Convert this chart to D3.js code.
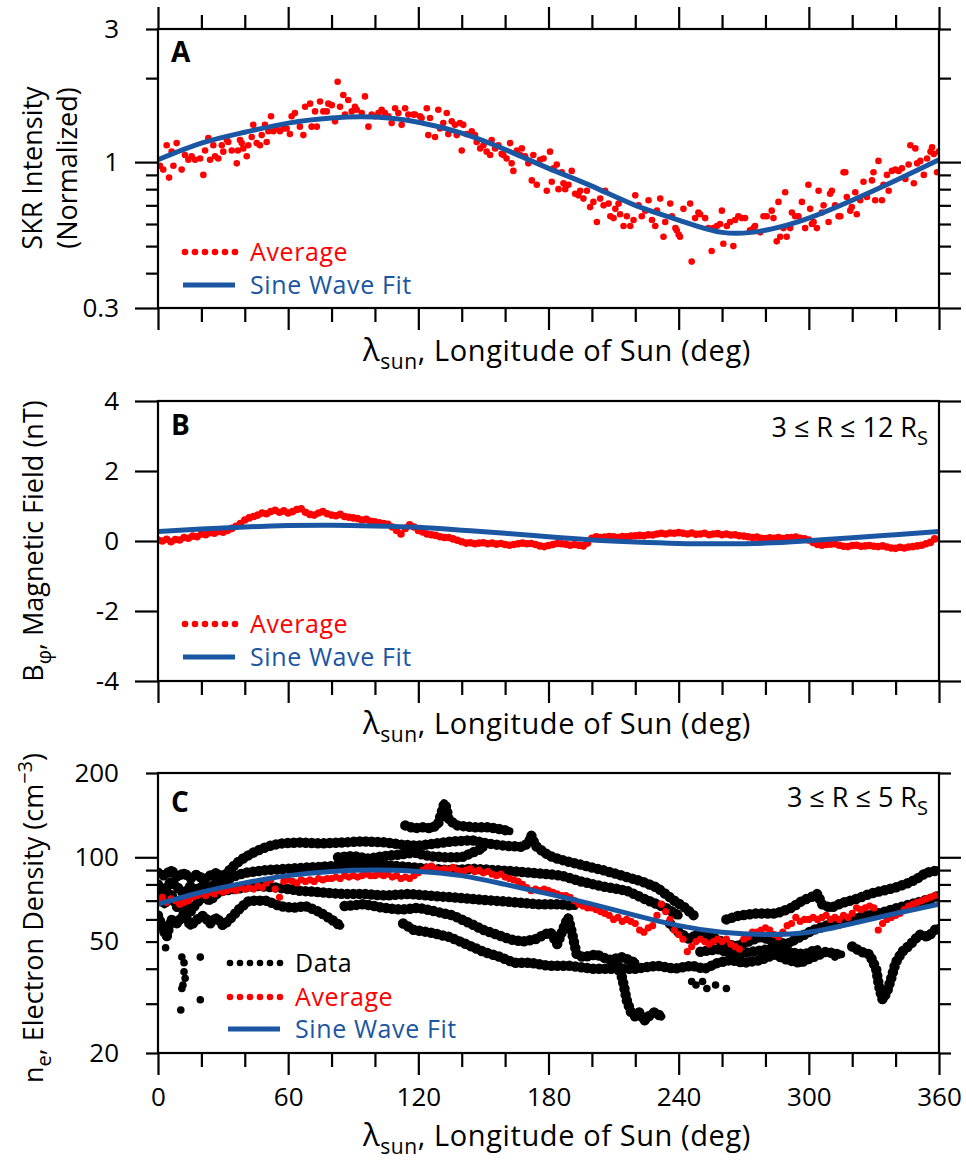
<!DOCTYPE html>
<html><head><meta charset="utf-8">
<script src="https://cdn.jsdelivr.net/npm/d3@7"></script>
<style>
body{margin:0;background:#fff;}
svg{display:block;font-family:"Open Sans",sans-serif;}
</style></head><body>
<svg id="c" width="966" height="1160"></svg>
<script>
// ---------------- DATA ----------------
const lonMajor = [0, 60, 120, 180, 240, 300, 360];
const lonMinor = [20, 40, 80, 100, 140, 160, 200, 220, 260, 280, 320, 340];
const fitLon = d3.range(0, 361, 20);

// Panel A: SKR intensity (normalized)
const skrFit = [1.02,1.17,1.28,1.38,1.44,1.45,1.39,1.27,1.11,0.95,0.82,0.70,0.62,0.56,0.57,0.63,0.73,0.86,1.02];
const skrAvg = [
[0.9,0.97],[2.4,0.94],[4.0,1.15],[5.1,0.88],[6.3,1.09],[7.1,0.97],[8.6,1.17],[10.9,0.94],[12.4,1.06],[14.0,1.02],
[15.5,1.05],[17.1,1.02],[19.4,1.03],[20.9,0.90],[21.7,1.10],[23.2,1.22],[24.0,1.02],[25.5,1.15],[26.3,1.05],[27.8,1.03],
[29.4,1.15],[30.1,1.09],[31.7,1.20],[32.4,1.18],[34.0,1.10],[36.3,0.99],[36.8,1.10],[37.8,1.20],[38.6,1.17],[39.3,1.12],
[40.9,1.05],[41.6,1.15],[43.2,1.23],[43.9,1.36],[45.5,1.17],[47.0,1.15],[47.8,1.25],[49.3,1.36],[50.1,1.18],[50.9,1.29],
[52.1,1.46],[53.2,1.29],[54.7,1.32],[56.2,1.29],[57.8,1.32],[59.3,1.32],[60.8,1.26],[61.6,1.46],[63.1,1.50],[65.4,1.34],
[67.0,1.25],[67.8,1.58],[70.1,1.62],[70.8,1.34],[72.4,1.52],[73.2,1.34],[74.7,1.65],[76.2,1.52],[77.8,1.52],[78.5,1.62],
[80.1,1.60],[81.6,1.40],[82.8,1.94],[83.9,1.58],[85.4,1.74],[86.2,1.48],[87.7,1.67],[89.3,1.52],[90.8,1.58],[91.6,1.54],
[93.9,1.50],[95.4,1.72],[97.0,1.34],[98.5,1.48],[100.0,1.46],[101.6,1.50],[103.1,1.54],[104.6,1.50],[106.2,1.46],[107.7,1.38],
[109.3,1.56],[110.8,1.50],[112.3,1.36],[113.9,1.56],[115.4,1.48],[117.7,1.48],
[118.5,1.48],[120.8,1.46],[121.5,1.44],[123.9,1.56],[125.4,1.44],[124.6,1.25],[127.7,1.23],[129.2,1.54],[130.0,1.32],[131.5,1.38],
[133.1,1.50],[133.8,1.26],[135.4,1.40],[136.9,1.36],[137.7,1.25],[139.2,1.38],[140.0,1.10],[140.7,1.36],[142.3,1.26],[144.6,1.29],
[146.1,1.25],[146.9,1.18],[148.5,1.12],[150.0,1.15],[151.5,1.09],[153.1,1.06],[153.8,1.20],[155.4,1.12],[156.9,1.15],[158.4,1.07],
[159.2,1.06],[160.7,1.03],[162.3,1.17],[163.0,0.99],[163.8,0.93],[165.4,1.10],[166.9,1.06],[167.7,1.12],[169.2,1.05],[170.7,0.99],
[172.3,0.86],[173.0,1.06],[174.6,0.83],[176.1,1.02],[177.7,1.03],[179.2,0.79],[180.7,1.09],[181.5,0.85],[182.3,0.95],[183.8,0.98],
[184.6,0.80],[186.1,0.92],[186.9,0.84],[187.7,0.80],[189.2,0.83],[190.7,0.93],[192.3,0.77],[193.8,0.76],[194.6,0.79],[196.1,0.74],
[197.7,0.79],[199.2,0.69],[200.7,0.72],[202.3,0.61],[203.8,0.74],[205.4,0.70],[206.1,0.79],[207.7,0.71],[208.5,0.64],[210.0,0.63],
[210.8,0.68],[212.3,0.71],[213.0,0.65],[214.6,0.59],[216.1,0.64],[217.7,0.59],[219.2,0.62],[220.0,0.76],[221.5,0.70],[223.0,0.64],
[224.6,0.67],[226.1,0.73],[227.7,0.62],[229.2,0.59],[230.0,0.67],[231.5,0.74],[233.0,0.54],[233.8,0.61],[236.1,0.71],[236.9,0.64],
[238.5,0.58],[240.0,0.55],
[239.1,0.57],[240.6,0.54],[242.2,0.68],[245.3,0.71],[246.0,0.44],[247.6,0.63],[249.1,0.66],[249.9,0.65],[252.2,0.63],[253.7,0.58],
[255.2,0.48],[256.0,0.58],[257.6,0.59],[259.1,0.60],[259.9,0.67],[260.6,0.51],[262.2,0.59],[263.7,0.61],[265.2,0.50],[266.0,0.62],
[267.5,0.64],[269.1,0.63],[270.6,0.63],[272.9,0.57],[274.5,0.58],[275.2,0.59],[277.6,0.56],[279.1,0.64],[280.6,0.64],[282.9,0.67],
[283.7,0.63],[285.2,0.52],[286.0,0.72],[286.8,0.54],[288.3,0.58],[289.1,0.78],[289.8,0.54],[291.4,0.58],[292.2,0.66],[293.7,0.64],
[295.2,0.64],[296.8,0.72],[298.3,0.58],[299.8,0.83],[300.6,0.68],[301.4,0.60],[302.2,0.61],[303.7,0.58],[304.5,0.79],[306.0,0.66],
[306.8,0.70],[309.1,0.61],[309.8,0.77],[310.6,0.79],[312.1,0.70],[313.7,0.64],[314.5,0.64],[316.0,0.92],[316.8,0.92],[317.5,0.75],
[319.1,0.67],[319.8,0.69],[321.4,0.78],[322.1,0.65],[323.7,0.73],[325.2,0.85],[326.8,0.75],[329.1,0.86],[329.8,0.92],[330.6,0.73],
[332.1,1.01],[333.7,0.73],[334.4,0.83],[336.0,0.90],[336.8,0.79],[338.3,0.93],[339.9,0.94],[341.4,0.93],[342.9,0.95],[344.5,0.87],
[346.0,0.98],[346.8,1.15],[348.4,0.84],[349.1,1.12],[349.9,0.99],[351.4,1.01],[353.0,0.90],[354.5,1.03],[356.1,1.09],[356.8,1.13],
[357.6,1.07],[359.1,0.92],[359.9,1.09]
];

// Panel B: B_phi (nT), averages every 2 deg
const bLon = d3.range(0, 360, 2);
const bAvg = [
0.03,0.00,0.05,-0.02,0.04, 0.03,0.10,0.08,0.14,0.12, 0.20,0.18,0.24,0.22,0.27, 0.25,0.30,0.36,0.42,0.50,
0.60,0.66,0.70,0.74,0.80, 0.78,0.84,0.88,0.82,0.86, 0.80,0.84,0.90,0.92,0.82, 0.76,0.74,0.80,0.84,0.78,
0.74,0.72,0.76,0.70,0.68, 0.66,0.64,0.60,0.62,0.56, 0.55,0.52,0.50,0.48,0.40, 0.30,0.20,0.36,0.46,0.40,
0.30,0.26,0.20,0.18,0.16, 0.12,0.10,0.10,0.06,0.02, -0.02,-0.06,-0.05,-0.08,-0.06, -0.05,-0.08,-0.06,-0.09,-0.07,
-0.10,-0.12,-0.10,-0.08,-0.06, -0.08,-0.07,-0.10,-0.14,-0.16, -0.13,-0.10,-0.07,-0.08,-0.09, -0.12,-0.10,-0.12,-0.14,-0.06,
0.08,0.12,0.10,0.11,0.13, 0.12,0.10,0.13,0.12,0.14, 0.15,0.16,0.15,0.18,0.17, 0.20,0.22,0.20,0.23,0.22,
0.24,0.22,0.20,0.23,0.19, 0.20,0.22,0.18,0.20,0.21, 0.18,0.20,0.17,0.18,0.15, 0.14,0.12,0.10,0.11,0.08,
0.07,0.09,0.08,0.10,0.07, 0.09,0.10,0.11,0.08,0.06, 0.03,-0.04,-0.10,-0.12,-0.10, -0.09,-0.08,-0.12,-0.15,-0.16,
-0.13,-0.12,-0.15,-0.14,-0.13, -0.15,-0.16,-0.14,-0.17,-0.20, -0.21,-0.18,-0.20,-0.17,-0.16, -0.14,-0.12,-0.08,-0.04,0.06
];
const bFit = [0.27,0.34,0.40,0.44,0.45,0.43,0.39,0.31,0.22,0.12,0.03,-0.03,-0.07,-0.08,-0.06,0.01,0.09,0.18,0.27];

// Panel C: electron density (cm^-3)
const neLon = d3.range(0, 360, 2);
const neAvg = [
70,72,69,71,70, 68,69,70,72,73, 74,73,75,74,76, 75,76,77,76,78, 77,78,77,79,78, 81,83,77,72,82,
83,82,81,83,82, 83,82,84,83,84, 84,85,84,86,85, 86,85,86,87,86, 86,87,86,87,85, 86,84,85,84,86,
88,90,92,93,91, 90,91,90,92,90, 89,90,91,89,90, 88,89,87,86,87, 85,84,83,82,80, 78,76,77,76,77,
76,75,74,73,73, 72,70,68,67,66, 66,65,64,63,62, 60,61,59,60,59, 58,55,54,56,57, 62,68,64,60,55,
53,51,46,48,50, 51,50,49,50,51, 50,51,49,48,47, 51,52,54,54,55, 56,55,53,52,54, 57,58,61,59,60,
60,61,60,61,62, 60,61,60,62,61, 63,66,65,66,67, 66,55,58,60,61, 62,63,65,67,68, 69,70,71,72,73
];
const neFit = [68,75,81,86,89,90,89,86,80,74,68,62,57,54,53,54,58,63,68];

// individual measurement tracks [longitude, density]
const neTrack1 = [[0,88],[3,86],[6,90],[9,85],[12,88],[15,84],[18,87],[21,83],[24,86],[27,88],[30,85],[33,90],[36,95],[40,100],[44,104],[50,109],[56,112],[65,113],[75,112],[85,113],[95,114],[105,113],[112,111],[120,110],[128,112],[136,114],[145,115],[152,112],[160,110],[168,109],[171,113],[172,120],[174,110],[178,104],[182,100],[188,97],[195,94],[205,90],[214,86],[223,82],[230,78],[238,70],[243,66],[247,62]];
const neTrack2 = [[114,130],[118,127],[122,128],[126,127],[129,131],[131,147],[132,156],[133,150],[134,136],[138,130],[145,128],[152,128],[158,126],[162,124]];
const neTrack3 = [[83,100],[90,101],[97,99],[104,101],[110,102],[118,104],[125,101],[132,100],[140,100],[145,104],[150,108]];
const neTrack4 = [[0,80],[3,76],[6,82],[9,78],[12,74],[15,79],[18,76],[21,80],[24,77],[27,82],[30,79],[33,84],[36,86],[40,88],[50,90],[60,91],[70,92],[80,93],[90,94],[100,95],[110,93],[118,92],[125,91],[135,90],[145,91],[155,90],[165,89],[172,88],[180,87],[186,86],[195,82],[204,79],[216,76],[226,70],[234,66],[240,62]];
const neTrack5 = [[0,72],[3,68],[6,74],[9,66],[12,70],[15,64],[18,69],[21,72],[24,70],[27,74],[30,76],[35,77],[45,79],[55,78],[65,76],[75,75],[85,74],[95,74],[105,73],[115,74],[125,73],[135,72],[145,71],[155,70],[165,69],[175,68],[185,68],[192,67]];
const neTrack6 = [[0,62],[2,56],[4,52],[6,60],[9,58],[12,63],[15,57],[18,60],[21,62],[24,58],[27,61],[30,57],[33,60],[38,66],[42,70],[50,70],[56,67],[62,66],[68,67],[74,64],[80,60],[84,57]];
const neTrack7 = [[113,58],[118,55],[125,54],[134,52],[142,49],[150,46],[158,44],[164,42],[172,42],[180,41],[190,41],[200,40],[210,40],[220,40],[230,41],[238,40],[246,41],[252,40],[258,42],[264,43],[270,42],[278,43],[284,45],[290,43],[296,42],[302,44],[308,46],[314,45]];
const neTrack8 = [[86,67],[95,68],[104,66],[112,65],[120,66],[128,64],[136,62],[144,58],[150,55],[156,53],[162,51],[168,50],[174,51],[178,53],[181,54],[184,49],[187,56],[189,61],[191,53],[193,45],[196,44],[202,45],[208,43],[214,44],[220,42]];
const neTrack9 = [[212,41],[214,37],[215,34],[216,31],[218,28],[220,27],[222,28],[224,26],[226,27],[229,28],[232,27]];
const neTrack10 = [[262,60],[268,62],[276,63],[285,63],[292,66],[297,70],[301,72],[304,74],[306,68],[310,66],[316,69],[322,71],[328,74],[334,76],[340,78],[346,81],[350,84],[354,88],[357,89],[360,90]];
const neTrack11 = [[236,58],[240,54],[245,51],[250,54],[255,52],[260,50],[266,48],[272,50],[278,52],[284,50],[290,49],[296,52],[302,55],[308,57],[314,58],[320,60],[326,62],[332,63],[338,65],[344,67],[350,69],[356,71],[360,73]];
const neTrack12 = [[320,48],[324,46],[328,45],[331,40],[332,36],[333,33],[334,31],[336,33],[338,37],[340,42],[343,46],[347,49],[351,53],[355,52],[358,55],[360,56]];
const neTrack13 = [[250,46],[258,47],[266,45],[274,46],[282,47],[290,46],[298,45],[304,47]];
const neDots = [[3.5,47.5],[11,44],[12,42],[12,39],[12.5,37],[11.5,35],[11,34],[10.5,28.5],[19.5,44],[19.5,31],[246,36],[248,35],[251,36],[253,34],[257,35],[262,34],[309,46],[312,44],[315,45]];
const neTracks = [neTrack1,neTrack2,neTrack3,neTrack4,neTrack5,neTrack6,neTrack7,neTrack8,neTrack9,neTrack10,neTrack11,neTrack12,neTrack13];

// ---------------- DRAW ----------------
const RED = '#ff0000', BLUE = '#1b56a2';
const FS = 26;
const svg = d3.select('#c');
const L = 158, R = 939;
const x = d3.scaleLinear([0, 360], [L, R]);

const yA = d3.scaleLog([0.3, 3], [308, 29]);
const yB = d3.scaleLinear([-4, 4], [681, 401]);
const yC = d3.scaleLog([20, 200], [1053, 773]);

function clip(id, top, bottom) {
  svg.append('clipPath').attr('id', id).append('rect')
    .attr('x', L).attr('y', top).attr('width', R - L).attr('height', bottom - top);
  return svg.append('g').attr('clip-path', `url(#${id})`);
}

function tickAxis(gen, scale, vals, size, pos) {
  const g = svg.append('g').attr('transform', pos)
    .call(gen(scale).tickValues(vals).tickSize(size).tickFormat(''));
  g.select('.domain').remove();
  g.selectAll('line').attr('stroke', '#000').attr('stroke-width', 2.2);
}
function labelAxis(gen, scale, vals, pad, pos, fmt) {
  const g = svg.append('g').attr('transform', pos)
    .call(gen(scale).tickValues(vals).tickSize(0).tickPadding(pad).tickFormat(fmt));
  g.select('.domain').remove();
  g.attr('font-family', null).attr('font-size', null);
  g.selectAll('text').attr('font-size', FS).attr('fill', '#000');
}

function frame(top, bottom, y, longT, shortT, labT, fmt, topTicks) {
  svg.append('rect').attr('x', L).attr('y', top).attr('width', R - L).attr('height', bottom - top)
    .attr('fill', 'none').attr('stroke', '#000').attr('stroke-width', 2.2);
  tickAxis(d3.axisLeft, y, longT, 23, `translate(${L},0)`);
  if (shortT.length) tickAxis(d3.axisLeft, y, shortT, 12, `translate(${L},0)`);
  tickAxis(d3.axisRight, y, longT, 22, `translate(${R},0)`);
  if (shortT.length) tickAxis(d3.axisRight, y, shortT, 12, `translate(${R},0)`);
  labelAxis(d3.axisLeft, y, labT, 39, `translate(${L},0)`, fmt);
  tickAxis(d3.axisBottom, x, lonMajor, 22, `translate(0,${bottom})`);
  tickAxis(d3.axisBottom, x, lonMinor, 14, `translate(0,${bottom})`);
  if (topTicks) {
    tickAxis(d3.axisTop, x, lonMajor, 22, `translate(0,${top})`);
    tickAxis(d3.axisTop, x, lonMinor, 14, `translate(0,${top})`);
  }
}

function xTitle(base) {
  const t = svg.append('text').attr('x', 557).attr('y', base).attr('text-anchor', 'middle')
    .attr('font-size', 29).attr('letter-spacing', 0.6);
  t.append('tspan').attr('font-size', 31).text('λ');
  t.append('tspan').attr('font-size', 21).attr('dy', 8).text('sun');
  t.append('tspan').attr('dy', -8).text(', Longitude of Sun (deg)');
}

function panelLabel(txt, base) {
  svg.append('text').attr('x', 171).attr('y', base).attr('font-size', 28).attr('font-weight', 'bold').text(txt);
}

function fitLine(g, y, vals) {
  g.append('path').datum(vals.map((v, i) => [fitLon[i], v]))
    .attr('fill', 'none').attr('stroke', BLUE).attr('stroke-width', 5)
    .attr('d', d3.line().x(d => x(d[0])).y(d => y(d[1])).curve(d3.curveNatural));
}

function legend(items, lx, tx, ys) {
  items.forEach((it, i) => {
    const cy = ys[i];
    if (it.type === 'dots') {
      d3.range(6).forEach(k => svg.append('circle').attr('cx', lx + 2 + k * 10).attr('cy', cy).attr('r', 3.3).attr('fill', it.color));
    } else {
      svg.append('line').attr('x1', lx).attr('x2', lx + 52).attr('y1', cy).attr('y2', cy)
        .attr('stroke', it.color).attr('stroke-width', 5);
    }
    svg.append('text').attr('x', tx).attr('y', cy + 9).attr('font-size', 25).attr('letter-spacing', 0.6)
      .attr('fill', it.color).text(it.label);
  });
}

function rangeNote(txt, base) {
  const t = svg.append('text').attr('x', 928).attr('y', base).attr('text-anchor', 'end').attr('font-size', 27);
  t.append('tspan').text(txt);
  t.append('tspan').attr('font-size', 20).attr('dy', 8).text('S');
}

function yTitle(cx, cy, parts) {
  const t = svg.append('text').attr('transform', `translate(${cx},${cy}) rotate(-90)`)
    .attr('text-anchor', 'middle').attr('font-size', 27);
  parts.forEach(p => {
    const s = t.append('tspan').text(p.t);
    if (p.fs) s.attr('font-size', p.fs);
    if (p.dy) s.attr('dy', p.dy);
  });
}

// ---- Panel A ----
const gA = clip('clipA', 29, 308);
gA.selectAll('circle').data(skrAvg).join('circle')
  .attr('cx', d => x(d[0])).attr('cy', d => yA(d[1])).attr('r', 3.3).attr('fill', RED);
fitLine(gA, yA, skrFit);
frame(29, 308, yA, [1, 0.3], [3, 2, 0.9, 0.8, 0.7, 0.6, 0.5, 0.4], [3, 1, 0.3], d => String(d), true);
panelLabel('A', 62);
xTitle(361);
yTitle(42, 168, [{t:'SKR Intensity'}]);
yTitle(77, 168, [{t:'(Normalized)'}]);
legend([{type:'dots', color:RED, label:'Average'}, {type:'line', color:BLUE, label:'Sine Wave Fit'}], 183, 250, [252, 285]);

// ---- Panel B ----
const gB = clip('clipB', 401, 681);
gB.selectAll('circle').data(bAvg).join('circle')
  .attr('cx', (d, i) => x(bLon[i])).attr('cy', d => yB(d)).attr('r', 3.8).attr('fill', RED);
fitLine(gB, yB, bFit);
frame(401, 681, yB, [4, 2, 0, -2, -4], [], [4, 2, 0, -2, -4], d => d < 0 ? '-' + Math.abs(d) : String(d), false);
panelLabel('B', 435);
xTitle(734);
yTitle(43, 541, [{t:'B'}, {t:'φ', fs:20, dy:8}, {t:', Magnetic Field (nT)', dy:-8}]);
rangeNote('3 ≤ R ≤ 12 R', 437);
legend([{type:'dots', color:RED, label:'Average'}, {type:'line', color:BLUE, label:'Sine Wave Fit'}], 183, 250, [624, 657]);

// ---- Panel C ----
const gC = clip('clipC', 773, 1053);
const trackLine = d3.line().x(d => x(d[0])).y(d => yC(d[1]));
gC.selectAll('path.trk').data(neTracks).join('path').attr('class', 'trk')
  .attr('d', trackLine).attr('fill', 'none').attr('stroke', '#000')
  .attr('stroke-width', 8).attr('stroke-linejoin', 'round').attr('stroke-linecap', 'round');
gC.selectAll('path.bead').data(neTracks).join('path').attr('class', 'bead')
  .attr('d', trackLine).attr('fill', 'none').attr('stroke', '#000')
  .attr('stroke-width', 10.5).attr('stroke-linecap', 'round').attr('stroke-dasharray', '0 6');
gC.selectAll('circle.dot').data(neDots).join('circle').attr('class', 'dot')
  .attr('cx', d => x(d[0])).attr('cy', d => yC(d[1])).attr('r', 3.8).attr('fill', '#000');
gC.selectAll('circle.avg').data(neAvg).join('circle').attr('class', 'avg')
  .attr('cx', (d, i) => x(neLon[i])).attr('cy', d => yC(d)).attr('r', 3.6).attr('fill', RED);
fitLine(gC, yC, neFit);
frame(773, 1053, yC, [100], [200, 90, 80, 70, 60, 50, 40, 30, 20], [200, 100, 50, 20], d => String(d), false);
labelAxis(d3.axisBottom, x, lonMajor, 35, 'translate(0,1053)', d3.format('d'));
panelLabel('C', 812);
xTitle(1146);
yTitle(43, 918, [{t:'n'}, {t:'e', fs:20, dy:8}, {t:', Electron Density (cm', dy:-8}, {t:'−3', fs:20, dy:-11}, {t:')', dy:11}]);
rangeNote('3 ≤ R ≤ 5 R', 807);
legend([{type:'dots', color:'#000', label:'Data'}, {type:'dots', color:RED, label:'Average'}, {type:'line', color:BLUE, label:'Sine Wave Fit'}], 228, 295, [963, 997, 1029]);
</script>
</body></html>
